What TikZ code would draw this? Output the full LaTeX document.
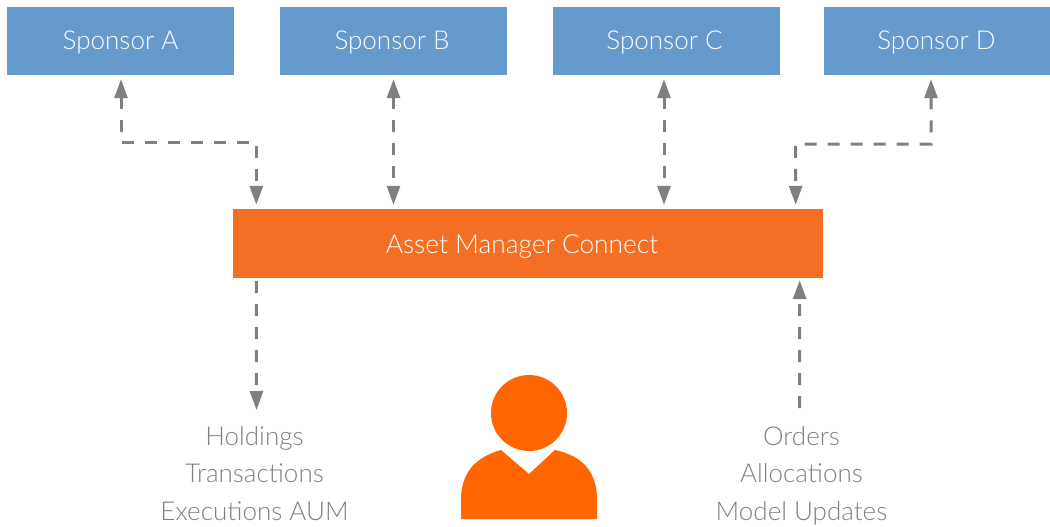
\documentclass[tikz,border=0pt]{standalone}
\usepackage{fontspec}
\setmainfont{Lato Light}
\usetikzlibrary{arrows.meta}
\definecolor{sblue}{HTML}{6699CC}
\definecolor{morange}{HTML}{F46F23}
\definecolor{porange}{HTML}{FF6600}
\definecolor{conn}{HTML}{7F7F7F}
\definecolor{ltext}{HTML}{808080}
\tikzset{
 sponsorbox/.style={fill=sblue,text=white,minimum width=227pt,minimum height=68pt,inner sep=0pt,text height=22pt,text depth=5pt,font=\fontsize{26}{30}\selectfont},
 mainbox/.style={fill=morange,text=white,minimum width=590pt,minimum height=69pt,inner sep=0pt,text height=25pt,text depth=5pt,font=\fontsize{26.3}{30}\selectfont},
 listlabel/.style={text=ltext,inner sep=0pt,text height=20pt,text depth=5pt,font=\fontsize{26}{30}\selectfont},
 linkline/.style={draw=conn,line width=3pt,dash pattern=on 12pt off 11pt,shorten >=4pt,shorten <=4pt,
   {Triangle[length=19pt,width=13pt,fill=conn]}-{Triangle[length=19pt,width=13pt,fill=conn]}},
 oneway/.style={draw=conn,line width=3pt,dash pattern=on 12pt off 11pt,-{Triangle[length=19pt,width=13pt,fill=conn]}},
 personfill/.style={fill=porange,draw=none},
}
\begin{document}
\begin{tikzpicture}[x=1pt,y=-1pt]
\useasboundingbox (0,0) rectangle (1050,527);
\node[sponsorbox] (a) at (120.5,41) {Sponsor A};
\node[sponsorbox] (b) at (393.5,41) {\kern-3pt Sponsor B};
\node[sponsorbox] (c) at (666.5,41) {\kern-4pt Sponsor C};
\node[sponsorbox] (d) at (937.5,41) {\kern-2pt Sponsor D};
\node[mainbox] (m) at (528,243.5) {\kern-12pt Asset Manager Connect};
\node[listlabel] (h) at (254.5,437.5) {Holdings};
\node[listlabel] (t) at (254.5,474.5) {Transactions};
\node[listlabel] (e) at (254.5,513) {Executions AUM};
\node[listlabel] (o) at (801.5,437.5) {Orders};
\node[listlabel] (al) at (801.5,474.5) {Allocations};
\node[listlabel] (u) at (801.5,513) {Model Updates};
\coordinate (hend) at (256.5,410);
\coordinate (ostart) at (799.5,408);
\draw[linkline] ([xshift=.5pt]a.south) |- (121,142) -| ([xshift=23.5pt]m.north west);
\draw[linkline] (b.south) -- ([xshift=-134.5pt]m.north);
\draw[linkline] ([xshift=-2.5pt]c.south) -- ([xshift=136pt]m.north);
\draw[linkline] ([xshift=-6.5pt]d.south) |- (795.5,144) -- ([xshift=-27.5pt]m.north east);
\draw[oneway,shorten <=3pt] ([xshift=23.5pt]m.south west) -- (hend);
\draw[oneway,shorten >=2pt] (ostart) -- ([xshift=-23.5pt]m.south east);
\node[personfill,circle,minimum size=76pt,inner sep=0pt] (head) at (529,413) {};
\path[personfill] (461,519) -- (461,497) .. controls (462,472) and (476,457) .. (501,450) -- (529,474) -- (555,450) .. controls (583,456) and (596,472) .. (597,497) -- (597,519) -- cycle;
\end{tikzpicture}
\end{document}
